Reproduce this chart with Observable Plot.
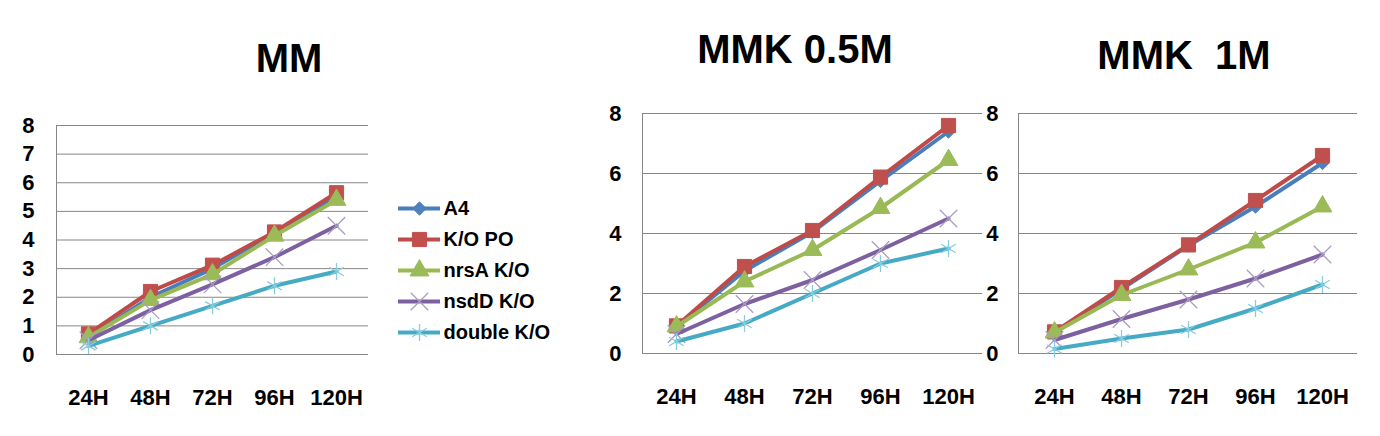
<!DOCTYPE html>
<html><head><meta charset="utf-8">
<script src="https://cdn.jsdelivr.net/npm/d3@7"></script>
<script src="https://cdn.jsdelivr.net/npm/@observablehq/plot@0.6"></script>
<style>
body{margin:0;background:#fff;}
#root{position:relative;width:1380px;height:436px;overflow:hidden;background:#fff;font-family:"Liberation Sans",Arial,sans-serif;}
.panel{position:absolute;}
.title{position:absolute;font-weight:bold;font-size:40px;line-height:40px;white-space:pre;color:#000;}
</style></head><body><div id="root"></div>
<script>
// ---- data ----
const times = ["24H", "48H", "72H", "96H", "120H"];
const seriesNames = ["A4", "K/O PO", "nrsA K/O", "nsdD K/O", "double K/O"];

// MM
const mmA4     = [0.6, 2.0, 3.0, 4.25, 5.5];
const mmKOPO   = [0.72, 2.2, 3.12, 4.28, 5.65];
const mmNrsA   = [0.6, 1.9, 2.8, 4.15, 5.4];
const mmNsdD   = [0.5, 1.55, 2.45, 3.4, 4.5];
const mmDouble = [0.3, 1.0, 1.7, 2.4, 2.9];

// MMK 0.5M
const k05A4     = [0.9, 2.75, 4.05, 5.75, 7.4];
const k05KOPO   = [0.92, 2.9, 4.1, 5.88, 7.6];
const k05NrsA   = [0.9, 2.4, 3.45, 4.85, 6.45];
const k05NsdD   = [0.65, 1.65, 2.45, 3.45, 4.5];
const k05Double = [0.4, 1.0, 2.0, 3.0, 3.5];

// MMK 1M
const k1A4     = [0.7, 2.15, 3.6, 4.9, 6.35];
const k1KOPO   = [0.72, 2.2, 3.62, 5.1, 6.6];
const k1NrsA   = [0.7, 1.95, 2.8, 3.7, 4.9];
const k1NsdD   = [0.45, 1.15, 1.8, 2.5, 3.3];
const k1Double = [0.15, 0.5, 0.8, 1.5, 2.3];

const mmTicks = [0, 1, 2, 3, 4, 5, 6, 7, 8];
const kTicks = [0, 2, 4, 6, 8];

const panelTitles = ["MM", "MMK 0.5M", "MMK  1M"];

// ---- styles ----
const lineColors = ["#4A7EBB", "#BE4B48", "#98B954", "#7D60A0", "#46AAC5"];
const markSymbols = ["diamond2", "square", "triangle", "times", "asterisk"];
const markFill = ["#4F81BD", "#C0504D", "#9BBB59", "none", "none"];
const markStroke = ["#4F81BD", "#C0504D", "#9BBB59", "#A99DC3", "#86CDE0"];
const markR = [6, 8, 7, 8, 8];
const markSW = [1, 1, 1, 1.3, 1.3];
const gridColor = "#878787";
const font = "'Liberation Sans', Arial, sans-serif";

function rows(lists) {
  const out = [];
  lists.forEach((vals, si) => vals.forEach((v, ti) => out.push({series: seriesNames[si], time: times[ti], value: v})));
  return out;
}

function seriesMarks(data) {
  const marks = [];
  seriesNames.forEach((name, i) => {
    const d = data.filter(r => r.series === name);
    marks.push(Plot.line(d, {x: "time", y: "value", stroke: lineColors[i], strokeWidth: 4}));
    marks.push(Plot.dot(d, {x: "time", y: "value", symbol: markSymbols[i], r: markR[i], fill: markFill[i], stroke: markStroke[i], strokeWidth: markSW[i]}));
  });
  return marks;
}

function panel(data, ticks, opts) {
  return Plot.plot({
    width: opts.width, height: opts.height,
    marginLeft: opts.ml, marginRight: opts.mr, marginTop: opts.mt, marginBottom: opts.mb,
    style: {fontFamily: font, fontSize: "22px", fontWeight: "bold", color: "#000", background: "transparent", overflow: "visible"},
    x: {type: "point", domain: times, padding: 0.5},
    y: {domain: [0, 8]},
    marks: [
      Plot.ruleY(ticks, {stroke: gridColor, strokeWidth: 1}),
      Plot.frame({anchor: "left", stroke: gridColor}),
      ...seriesMarks(data),
      Plot.axisY({ticks: ticks, tickSize: 0, tickPadding: opts.tp, label: null, fill: "#000"}),
      Plot.axisX({tickSize: 0, tickPadding: 35, label: null, fill: "#000"})
    ]
  });
}

const root = document.getElementById("root");
function place(el, left, top) {
  const d = document.createElement("div");
  d.className = "panel";
  d.style.left = left + "px"; d.style.top = top + "px";
  d.appendChild(el);
  root.appendChild(d);
}

place(panel(rows([mmA4, mmKOPO, mmNrsA, mmNsdD, mmDouble]), mmTicks,
  {width: 380, height: 320, ml: 56, mr: 12, mt: 25, mb: 66, tp: 22}), 0, 100);
place(panel(rows([k05A4, k05KOPO, k05NrsA, k05NsdD, k05Double]), kTicks,
  {width: 385, height: 320, ml: 42, mr: 3, mt: 13, mb: 67, tp: 21}), 600, 100);
place(panel(rows([k1A4, k1KOPO, k1NrsA, k1NsdD, k1Double]), kTicks,
  {width: 385, height: 320, ml: 33, mr: 13, mt: 13, mb: 67, tp: 20}), 985, 100);

// legend
const legendRows = seriesNames.map((name, i) => ({name, i}));
const legend = Plot.plot({
  width: 200, height: 196, margin: 0,
  style: {fontFamily: font, background: "transparent", overflow: "visible"},
  x: {domain: [0, 1], range: [8, 50], axis: null},
  y: {type: "point", domain: seriesNames, range: [20, 176], axis: null},
  marks: [
    ...legendRows.map(r => Plot.ruleY([r], {y: "name", x1: 0, x2: 1, stroke: lineColors[r.i], strokeWidth: 4})),
    ...legendRows.map(r => Plot.dot([r], {x: () => 0.5, y: "name", symbol: markSymbols[r.i], r: markR[r.i], fill: markFill[r.i], stroke: markStroke[r.i], strokeWidth: markSW[r.i]})),
    Plot.text(legendRows, {x: () => 1, y: "name", text: "name", textAnchor: "start", dx: 3, fontSize: 20, fontWeight: "bold", fill: "#000"})
  ]
});
place(legend, 390, 172);

// titles
const titlePos = [[289, 38], [795, 29], [1184, 35]];
panelTitles.forEach((t, i) => {
  const d = document.createElement("div");
  d.className = "title";
  d.textContent = t;
  root.appendChild(d);
  const w = d.getBoundingClientRect().width;
  d.style.left = (titlePos[i][0] - w / 2) + "px";
  d.style.top = titlePos[i][1] + "px";
});
</script>
</body></html>
